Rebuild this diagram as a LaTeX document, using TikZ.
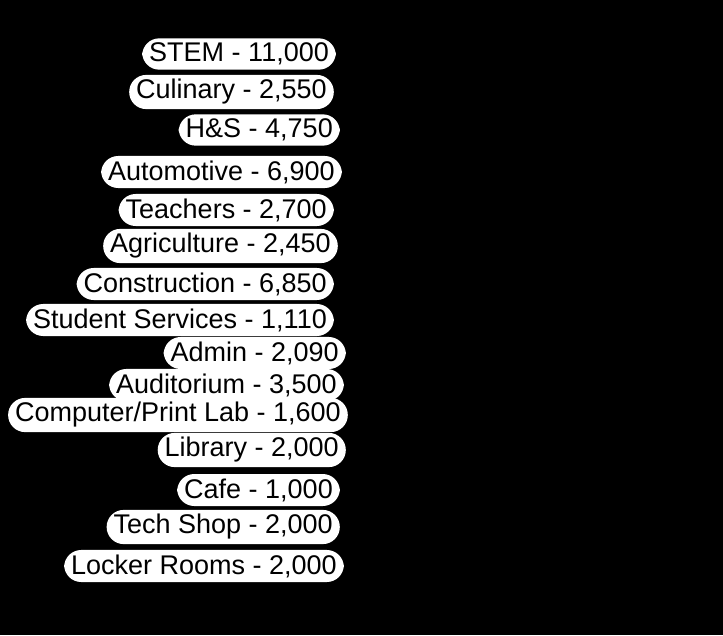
\documentclass[tikz,border=0pt]{standalone}
\usepackage{fontspec}
\setmainfont{Liberation Sans}
\usetikzlibrary{positioning}
\begin{document}
\begin{tikzpicture}[x=1pt,y=-1pt,
      room/.style={anchor=east,fill=white,text=black,rounded corners=17pt,
        inner xsep=7pt,inner ysep=4.5pt,font=\fontsize{27}{27}\selectfont},
    ]
        \fill[black] (0,0) rectangle (723,635);
        \useasboundingbox (0,0) rectangle (723,635);
        \node[room] (stem)     at (336,54)  {STEM - 11,000};
        \node[room] (culinary) at (334,92)  {Culinary - 2,550};
        \node[room] (hs)       at (340,130) {H\&S - 4,750};
        \node[room] (auto)     at (342,172) {Automotive - 6,900};
        \node[room] (teach)    at (334,210) {Teachers - 2,700};
        \node[room] (agri)     at (338,246) {Agriculture - 2,450};
        \node[room] (constr)   at (334,284) {Construction - 6,850};
        \node[room] (student)  at (334,320) {Student Services - 1,110};
        \node[room] (admin)    at (346,353) {Admin - 2,090};
        \node[room] (audit)    at (344,385) {Auditorium - 3,500};
        \node[room] (complab)  at (348,415) {Computer/Print Lab - 1,600};
        \node[room] (library)  at (346,450) {Library - 2,000};
        \node[room] (cafe)     at (340,490) {Cafe - 1,000};
        \node[room] (tech)     at (340,527) {Tech Shop - 2,000};
        \node[room] (locker)   at (344,566) {Locker Rooms - 2,000};
    \end{tikzpicture}
\end{document}
